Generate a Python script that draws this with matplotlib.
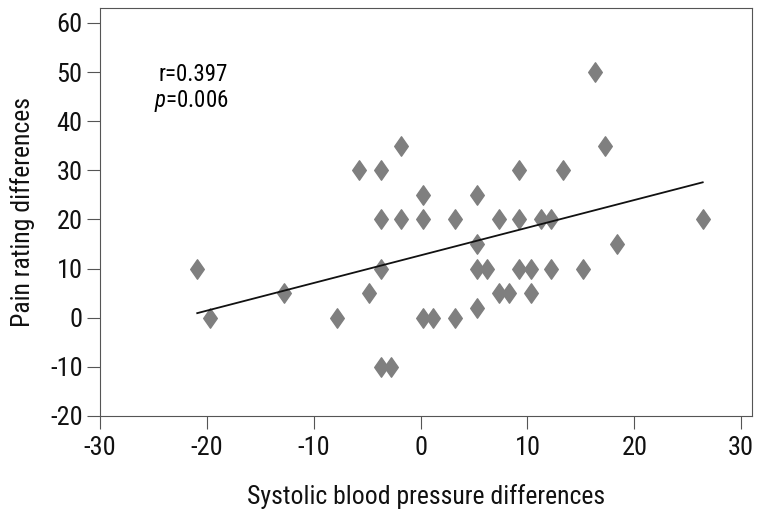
import numpy as np
import matplotlib
matplotlib.use("Agg")
import matplotlib.pyplot as plt
from matplotlib.path import Path

# data
sbp_diff = [-20.9, -19.7, -12.8, -7.8, -5.8, -4.8, -3.7, -3.7, -3.7, -3.7,
            -2.8, -1.8, -1.8, 0.2, 0.2, 0.2, 1.2, 3.2, 3.2, 5.3,
            5.3, 5.3, 5.3, 6.2, 7.3, 7.3, 8.3, 9.2, 9.2, 9.2,
            10.3, 10.3, 11.3, 12.2, 12.2, 13.3, 15.2, 16.3, 17.3, 18.4, 26.4]
pain_diff = [10, 0, 5, 0, 30, 5, 30, 20, 10, -10,
             -10, 35, 20, 25, 20, 0, 0, 20, 0, 25,
             15, 10, 2, 10, 20, 5, 5, 30, 20, 10,
             10, 5, 20, 20, 10, 30, 10, 50, 35, 15, 20]

# fitted regression line as shown
fit_slope = 0.563
fit_intercept = 12.7
r_text = "r=0.397"
p_text = "$\\it{p}$=0.006"

x_ticks = [-30, -20, -10, 0, 10, 20, 30]
y_ticks = [-20, -10, 0, 10, 20, 30, 40, 50, 60]

plt.rcParams['font.family'] = ['Roboto Condensed', 'DejaVu Sans']
plt.rcParams['mathtext.fontset'] = 'custom'
plt.rcParams['mathtext.it'] = 'Roboto Condensed:italic'
plt.rcParams['mathtext.rm'] = 'Roboto Condensed'

fig = plt.figure(figsize=(7.61, 5.14), dpi=100)
ax = fig.add_axes([0.1314, 0.1907, 0.8566, 0.7933])

diamond = Path([(0, 1), (0.7, 0), (0, -1), (-0.7, 0), (0, 1)],
               [Path.MOVETO, Path.LINETO, Path.LINETO, Path.LINETO, Path.CLOSEPOLY])

ax.plot(sbp_diff, pain_diff, linestyle='none', marker=diamond, markersize=14,
        color='#7f7f7f', markeredgecolor='#7f7f7f', zorder=2)

xs = np.array([min(sbp_diff), max(sbp_diff)])
ax.plot(xs, fit_intercept + fit_slope * xs, color='#111111', linewidth=1.3, zorder=3)

ax.text(-18.0, 49.6, r_text, ha='right', va='center', fontsize=16.5)
ax.text(-18.0, 44.2, p_text, ha='right', va='center', fontsize=16.5)

ax.set_xlim(-30, 31)
ax.set_ylim(-20, 63)
ax.set_xticks(x_ticks)
ax.set_yticks(y_ticks)
ax.set_xticklabels([str(t) for t in x_ticks])
ax.set_yticklabels([str(t) for t in y_ticks])
ax.tick_params(axis='both', direction='out', length=9.5, width=0.8, color='#555555',
               labelsize=19, labelcolor='#111111')
ax.tick_params(axis='x', pad=5)
ax.tick_params(axis='y', pad=3)
for s in ax.spines.values():
    s.set_color('#555555')
    s.set_linewidth(0.8)

ax.set_xlabel('Systolic blood pressure differences', fontsize=18.5, labelpad=17, color='#111111')
ax.set_ylabel('Pain rating differences', fontsize=18.5, labelpad=11, color='#111111')

fig.savefig('out.png', dpi=100)
